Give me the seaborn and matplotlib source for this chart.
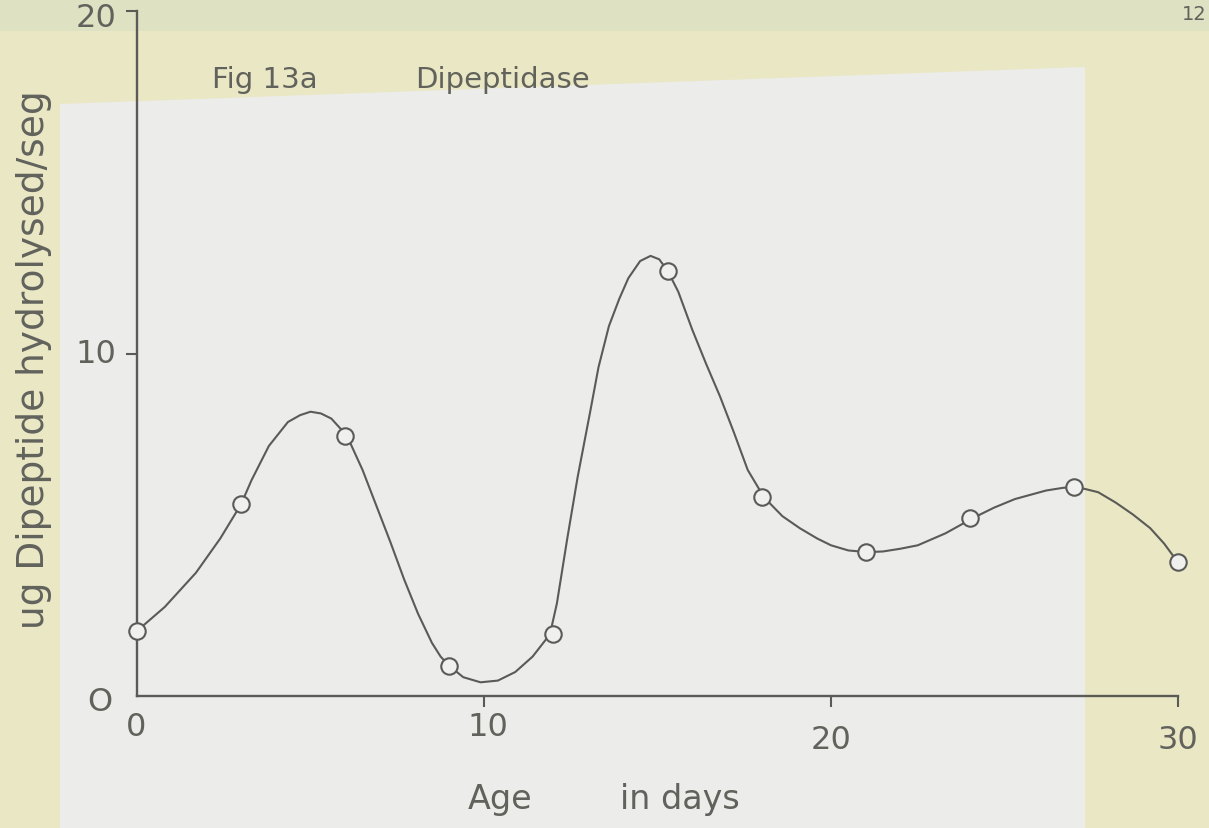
import matplotlib
matplotlib.use("Agg")
import matplotlib.pyplot as plt
import seaborn as sns
import pandas as pd
from matplotlib.patches import Rectangle, Polygon
from matplotlib.transforms import ScaledTranslation

# ---- data ----
sample_age = [0, 3, 6, 9, 12, 15.3, 18, 21, 24, 27, 30]
sample_activity = [1.9, 5.6, 7.6, 0.88, 1.8, 12.4, 5.8, 4.2, 5.2, 6.1, 3.9]

curve_age = [0, 0.8, 1.7, 2.4, 3.0, 3.3, 3.8, 4.35, 4.7, 5.0, 5.3, 5.6, 6.05, 6.5,
             6.9, 7.3, 7.7, 8.1, 8.5, 8.75, 9.0, 9.4, 9.9, 10.4, 10.9, 11.4, 11.9,
             12.1, 12.4, 12.7, 13.06, 13.3, 13.6, 13.9, 14.16, 14.5, 14.8, 15.05,
             15.3, 15.6, 16.0, 16.4, 16.8, 17.2, 17.6, 18.07, 18.6, 19.1, 19.6,
             20.0, 20.5, 21.04, 21.5, 22.0, 22.5, 23.3, 24.1, 24.7, 25.3, 26.2,
             26.7, 27.1, 27.7, 28.2, 28.7, 29.2, 29.6, 30.0]
curve_activity = [1.9, 2.6, 3.6, 4.6, 5.6, 6.3, 7.3, 8.0, 8.2, 8.3, 8.25, 8.1, 7.6,
                  6.6, 5.55, 4.5, 3.4, 2.4, 1.55, 1.15, 0.88, 0.55, 0.4, 0.45, 0.7,
                  1.15, 1.8, 2.7, 4.6, 6.4, 8.3, 9.6, 10.8, 11.6, 12.2, 12.7, 12.85,
                  12.75, 12.4, 11.8, 10.7, 9.7, 8.75, 7.7, 6.6, 5.8, 5.25, 4.9,
                  4.6, 4.4, 4.25, 4.2, 4.22, 4.3, 4.4, 4.75, 5.2, 5.5, 5.75, 6.0,
                  6.08, 6.1, 5.95, 5.65, 5.3, 4.9, 4.45, 3.9]

x_ticks = [0, 10, 20, 30]
y_ticks = [0, 10, 20]
x_ticklabels = ["0", "10", "20", "30"]
y_ticklabels = ["O", "10", "20"]

title_left = "Fig 13a"
title_right = "Dipeptidase"
x_label_a = "Age"
x_label_b = "in days"
y_label = "ug Dipeptide hydrolysed/seg"
page_number = "12"

# ---- style ----
sns.set_style("ticks")
plt.rcParams["font.family"] = ["DejaVu Sans"]
ink = "#5a5a57"
text_ink = "#62625d"

fig = plt.figure(figsize=(12.09, 8.29), dpi=100)
fig.patch.set_facecolor("#eae7c4")
W, H = 1209, 829
# greenish top strip
fig.patches.append(Rectangle((0, 1 - 32 / H), 1, 32 / H, transform=fig.transFigure,
                             facecolor="#dfe2c2", edgecolor="none", zorder=-6))
# lighter paper sheet behind the chart (slightly skewed top edge)
fig.patches.append(Polygon([(60 / W, 0), (1085 / W, 0), (1085 / W, 1 - 68 / H),
                            (60 / W, 1 - 105 / H)], closed=True,
                           transform=fig.transFigure, facecolor="#ececea",
                           edgecolor="none", zorder=-5))

ax = fig.add_axes([137 / W, 1 - 697 / H, (1178 - 137) / W, (697 - 12) / H])
ax.set_facecolor("none")
ax.set_zorder(2)

df_curve = pd.DataFrame({"age": curve_age, "activity": curve_activity})
df_pts = pd.DataFrame({"age": sample_age, "activity": sample_activity})

sns.lineplot(data=df_curve, x="age", y="activity", sort=False, ax=ax,
             color=ink, linewidth=1.5, zorder=2, clip_on=False)
sns.scatterplot(data=df_pts, x="age", y="activity", ax=ax, s=140, marker="o",
                facecolor="#f0f0ee", edgecolor=ink, linewidth=1.5, zorder=3,
                clip_on=False)

ax.set_xlim(0, 30)
ax.set_ylim(0, 20)
ax.set_xticks(x_ticks)
ax.set_xticklabels(x_ticklabels)
ax.set_yticks(y_ticks)
ax.set_yticklabels(y_ticklabels)
ax.tick_params(axis="both", direction="out", length=8, width=1.5, color=ink,
               labelcolor=text_ink, labelsize=23)
ax.tick_params(axis="x", pad=5)
ax.tick_params(axis="y", pad=7)
ax.xaxis.get_major_ticks()[0].tick1line.set_visible(False)
ax.yaxis.get_major_ticks()[0].tick1line.set_visible(False)

ylabs = ax.get_yticklabels()
for lab in ylabs:
    lab.set_verticalalignment("center")
shifts = [(-3, -4), (0, 0), (0, -5)]
for lab, (dx, dy) in zip(ylabs, shifts):
    lab.set_transform(lab.get_transform() +
                      ScaledTranslation(dx / 72, dy / 72, fig.dpi_scale_trans))
xlabs = ax.get_xticklabels()
xshifts = [(-1, 2), (3, 2), (0, -7), (0, -7)]
for lab, (dx, dy) in zip(xlabs, xshifts):
    lab.set_transform(lab.get_transform() +
                      ScaledTranslation(dx / 72, dy / 72, fig.dpi_scale_trans))

for side in ["top", "right"]:
    ax.spines[side].set_visible(False)
for side in ["left", "bottom"]:
    ax.spines[side].set_color(ink)
    ax.spines[side].set_linewidth(1.7)

ax.set_xlabel("")
ax.set_ylabel("")

fig.text(500 / W, 1 - 800 / H, x_label_a, fontsize=24, color=text_ink,
         ha="center", va="center")
fig.text(680 / W, 1 - 800 / H, x_label_b, fontsize=24, color=text_ink,
         ha="center", va="center")
fig.text(34 / W, 1 - 360 / H, y_label, fontsize=27, color=text_ink,
         rotation=90, ha="center", va="center")
fig.text(212 / W, 1 - 80 / H, title_left, fontsize=21, color=text_ink,
         ha="left", va="center")
fig.text(415 / W, 1 - 80 / H, title_right, fontsize=21, color=text_ink,
         ha="left", va="center")
fig.text(1207 / W, 1 - 15 / H, page_number, fontsize=14, color=text_ink,
         ha="right", va="center")

fig.savefig("out.png", dpi=100, facecolor=fig.get_facecolor())
